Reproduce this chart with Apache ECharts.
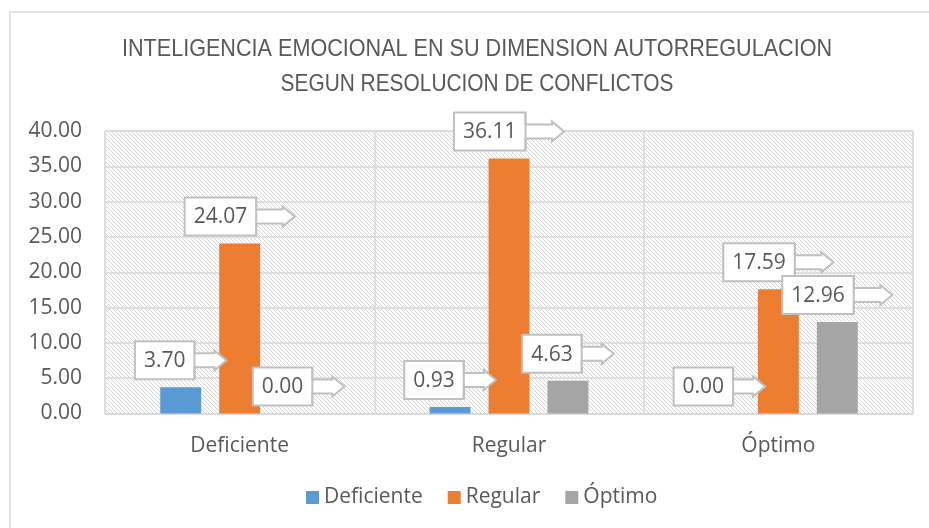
<!DOCTYPE html>
<html>
<head>
<meta charset="utf-8">
<script src="https://cdn.jsdelivr.net/npm/echarts@6/dist/echarts.min.js"></script>
<style>
  html, body { margin: 0; padding: 0; background: #fff; }
  #chart { width: 929px; height: 528px; }
</style>
</head>
<body>
<div id="chart"></div>
<script>
// data
const categories = ['Deficiente', 'Regular', 'Óptimo'];
const seriesNames = ['Deficiente', 'Regular', 'Óptimo'];
const deficiente = [3.70, 0.93, 0.00];
const regular = [24.07, 36.11, 17.59];
const optimo = [0.00, 4.63, 12.96];
const yMin = 0, yMax = 40, yStep = 5;

const colors = ['#5B9BD5', '#ED7D31', '#A5A5A5'];
const BAR_W = 0.152;   // bar width as share of category band
const BAR_GAP = 0.44;  // gap between bars as share of bar width
const FONT = '"Open Sans", sans-serif';
const TXT = '#595959';

// diagonal hatch used as plot background
const tile = document.createElement('canvas');
tile.width = 4; tile.height = 4;
const tg = tile.getContext('2d');
tg.fillStyle = '#ffffff';
tg.fillRect(0, 0, 4, 4);
tg.fillStyle = '#d4d4d4';
for (let i = 0; i < 4; i++) tg.fillRect(i, i, 1, 1);

const measureCtx = document.createElement('canvas').getContext('2d');
measureCtx.font = '21px ' + FONT;
function textWidth(s) { return measureCtx.measureText(s).width; }

// callout with arrow pointing right, centred over the bar
function calloutRenderer(k) {
  return function (params, api) {
    const idx = api.value(0), val = api.value(1);
    const p = api.coord([idx, val]);
    const band = api.size([1, 0])[0];
    const bw = band * BAR_W;
    const cx = p[0] + (k - 1) * bw * (1 + BAR_GAP);
    const txt = val.toFixed(2);
    const boxW = textWidth(txt) + 18;
    const total = boxW / 0.65;
    const left = cx - total / 2, right = left + total, boxR = left + boxW;
    const cy = p[1] - 27, h = 38;
    const sh = 7, hh = 10, hl = 12;
    return {
      type: 'group',
      children: [
        {
          type: 'polygon',
          shape: {
            points: [
              [left, cy - h / 2], [boxR, cy - h / 2], [boxR, cy - sh],
              [right - hl, cy - sh], [right - hl, cy - hh], [right, cy],
              [right - hl, cy + hh], [right - hl, cy + sh], [boxR, cy + sh],
              [boxR, cy + h / 2], [left, cy + h / 2]
            ]
          },
          style: { fill: '#fff', stroke: '#c0c0c0', lineWidth: 2 }
        },
        {
          type: 'line',
          shape: { x1: boxR, y1: cy - h / 2, x2: boxR, y2: cy + h / 2 },
          style: { stroke: '#c0c0c0', lineWidth: 2 }
        },
        {
          type: 'text',
          style: {
            x: left + boxW / 2, y: cy + 1, text: txt,
            align: 'center', verticalAlign: 'middle',
            font: '21px ' + FONT, fill: TXT
          }
        }
      ]
    };
  };
}

const values = [deficiente, regular, optimo];
const series = [];
values.forEach(function (arr, k) {
  series.push({
    name: seriesNames[k],
    type: 'bar',
    data: arr,
    barWidth: (BAR_W * 100) + '%',
    barGap: (BAR_GAP * 100) + '%',
    itemStyle: { color: colors[k] },
    z: 2
  });
});
values.forEach(function (arr, k) {
  series.push({
    name: 'label' + k,
    type: 'custom',
    coordinateSystem: 'cartesian2d',
    renderItem: calloutRenderer(k),
    data: arr.map(function (v, i) { return [i, v]; }),
    encode: { x: 0, y: 1 },
    clip: false,
    silent: true,
    z: 10 + k
  });
});

const chart = echarts.init(document.getElementById('chart'));
chart.setOption({
  animation: false,
  backgroundColor: '#fff',
  textStyle: { fontFamily: FONT },
  graphic: [
    {
      type: 'rect',
      shape: { x: 10, y: 12, width: 1000, height: 1000 },
      style: { fill: 'none', stroke: '#d9d9d9', lineWidth: 1.5 },
      silent: true
    },
    {
      type: 'text',
      x: 477, y: 49,
      scaleX: 0.9,
      style: {
        text: 'INTELIGENCIA EMOCIONAL EN SU DIMENSION AUTORREGULACION',
        align: 'center', verticalAlign: 'middle',
        font: '24px "Liberation Sans", sans-serif', fill: TXT
      }
    },
    {
      type: 'text',
      x: 477, y: 84,
      scaleX: 0.87,
      style: {
        text: 'SEGUN RESOLUCION DE CONFLICTOS',
        align: 'center', verticalAlign: 'middle',
        font: '24px "Liberation Sans", sans-serif', fill: TXT
      }
    }
  ],
  legend: {
    data: seriesNames,
    left: 306,
    top: 487,
    padding: 0,
    itemWidth: 13,
    itemHeight: 13,
    itemGap: 25,
    icon: 'rect',
    textStyle: { fontSize: 21, color: TXT, fontFamily: FONT }
  },
  grid: {
    left: 105, right: 16, top: 131, bottom: 114.5,
    show: true,
    backgroundColor: { image: tile, repeat: 'repeat' },
    borderColor: '#d9d9d9',
    borderWidth: 1
  },
  xAxis: {
    type: 'category',
    data: categories,
    axisLine: { lineStyle: { color: '#d9d9d9', width: 1.5 } },
    axisTick: { show: false },
    axisLabel: { fontSize: 21, color: TXT, margin: 22, fontFamily: FONT },
    splitLine: { show: true, lineStyle: { color: '#d9d9d9', width: 1.5 } }
  },
  yAxis: {
    type: 'value',
    min: yMin, max: yMax, interval: yStep,
    axisLine: { show: false },
    axisTick: { show: false },
    axisLabel: {
      fontSize: 21, color: TXT, margin: 23, fontFamily: FONT,
      formatter: function (v) { return v.toFixed(2); }
    },
    splitLine: { lineStyle: { color: '#d9d9d9', width: 1.5 } }
  },
  series: series
});
</script>
</body>
</html>
